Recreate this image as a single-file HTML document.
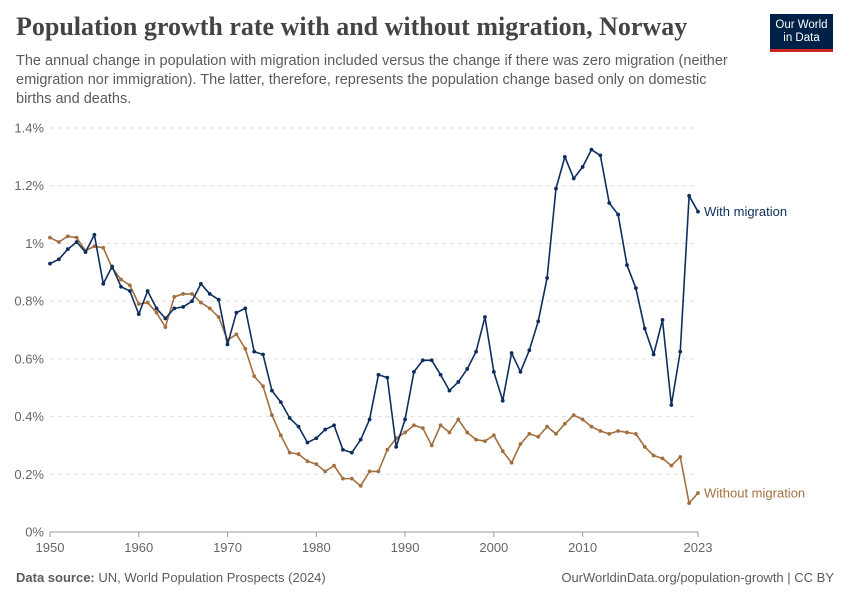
<!DOCTYPE html>
<html><head><meta charset="utf-8"><style>
body{margin:0;width:850px;height:600px;background:#fff;font-family:"Liberation Sans",sans-serif;position:relative;overflow:hidden}
.t{position:absolute;margin:0}
</style></head><body>
<h1 class="t" style="left:16px;top:12px;font-family:'Liberation Serif',serif;font-size:26px;font-weight:bold;color:#444">Population growth rate with and without migration, Norway</h1>
<p class="t" style="left:16px;top:52px;width:722px;font-size:14.5px;line-height:19px;color:#5b5b5b">The annual change in population with migration included versus the change if there was zero migration (neither emigration nor immigration). The latter, therefore, represents the population change based only on domestic births and deaths.</p>
<div style="position:absolute;left:770px;top:14px;width:63px;height:38px;background:#002147;border-bottom:3px solid #ce261e;color:#fff;font-size:11.5px;line-height:13px;text-align:center;padding-top:5px;box-sizing:border-box">Our World<br>in Data</div>
<svg id="c" width="850" height="600" style="position:absolute;left:0;top:0"></svg>
<p class="t" style="left:16px;top:570px;font-size:13px;color:#5b5b5b"><b>Data source:</b> UN, World Population Prospects (2024)</p>
<p class="t" style="right:16px;top:570px;font-size:13px;color:#5b5b5b">OurWorldinData.org/population-growth | CC BY</p>
<script>
const years=[];for(let y=1950;y<=2023;y++)years.push(y);
const withMigration=[0.93,0.945,0.98,1.005,0.97,1.03,0.86,0.92,0.85,0.835,0.755,0.835,0.775,0.74,0.775,0.78,0.80,0.86,0.825,0.805,0.65,0.76,0.775,0.625,0.615,0.49,0.45,0.395,0.365,0.31,0.325,0.355,0.37,0.285,0.275,0.32,0.39,0.545,0.535,0.295,0.39,0.555,0.595,0.595,0.545,0.49,0.52,0.565,0.625,0.745,0.555,0.455,0.62,0.555,0.63,0.73,0.88,1.19,1.30,1.225,1.265,1.325,1.305,1.14,1.10,0.925,0.845,0.705,0.615,0.735,0.44,0.625,1.165,1.11];
const withoutMigration=[1.02,1.005,1.025,1.02,0.975,0.99,0.985,0.915,0.875,0.855,0.79,0.795,0.76,0.71,0.815,0.825,0.825,0.795,0.775,0.745,0.665,0.685,0.635,0.54,0.505,0.405,0.335,0.275,0.27,0.245,0.235,0.21,0.23,0.185,0.185,0.16,0.21,0.21,0.285,0.325,0.345,0.37,0.36,0.30,0.37,0.345,0.39,0.345,0.32,0.315,0.335,0.28,0.24,0.305,0.34,0.33,0.365,0.34,0.375,0.405,0.39,0.365,0.35,0.34,0.35,0.345,0.34,0.295,0.265,0.255,0.23,0.26,0.10,0.135];
const yTicks=[0,0.2,0.4,0.6,0.8,1,1.2,1.4];
const yTickLabels=["0%","0.2%","0.4%","0.6%","0.8%","1%","1.2%","1.4%"];
const xTicks=[1950,1960,1970,1980,1990,2000,2010,2023];
const X0=50,X1=698,Y0=532,Y1=128;
const sx=v=>X0+(v-1950)/(2023-1950)*(X1-X0);
const sy=v=>Y0-v/1.4*(Y0-Y1);
const svg=document.getElementById('c');const NS='http://www.w3.org/2000/svg';
function mk(t,a,p){const e=document.createElementNS(NS,t);for(const k in a)e.setAttribute(k,a[k]);(p||svg).appendChild(e);return e;}
yTicks.forEach((v,i)=>{
 const l=mk('line',{x1:X0,x2:X1,y1:sy(v),y2:sy(v),stroke:v===0?'#999':'#ddd','stroke-dasharray':v===0?'':'4,4'});
 
 
 const t=mk('text',{x:44,y:sy(v)+4.5,'text-anchor':'end','font-size':'13','fill':'#666','font-family':'Liberation Sans'});
 t.textContent=yTickLabels[i];
 
 
});
xTicks.forEach(v=>{
 const l=mk('line',{x1:sx(v),x2:sx(v),y1:Y0,y2:Y0+5,stroke:'#999'});
 
 
 const t=mk('text',{x:sx(v),y:552,'text-anchor':'middle','font-size':'13','fill':'#666','font-family':'Liberation Sans'});
 t.textContent=v;
 
 
});
function series(vals,color,name,label){
 const g=mk('g',{});
 
 
 mk('polyline',{points:vals.map((v,i)=>sx(years[i])+','+sy(v)).join(' '),fill:'none',stroke:color,'stroke-width':1.6,'stroke-linejoin':'round'},g);
 vals.forEach((v,i)=>{const c=mk('circle',{cx:sx(years[i]),cy:sy(v),r:1.9,fill:color},g);
  
  });
 const last=vals[vals.length-1];
 const t=mk('text',{x:X1+6,y:sy(last)+4.5,'font-size':'13','fill':color,'font-family':'Liberation Sans'});
 t.textContent=label;
 
 
}
series(withoutMigration,'#a2703f','without-migration-line','Without migration');
series(withMigration,'#0e2f5e','with-migration-line','With migration');
</script>
</body></html>
